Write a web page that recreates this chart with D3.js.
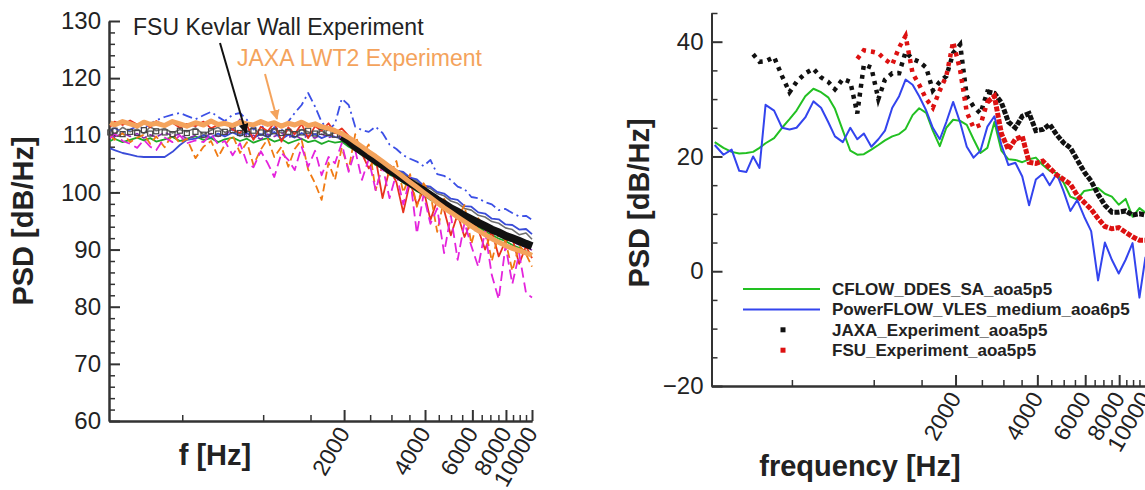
<!DOCTYPE html>
<html lang="en">
<head>
<meta charset="utf-8">
<title>PSD comparison</title>
<style>
body { margin: 0; background: #fff; }
svg text { font-family: "Liberation Sans", Arial, Helvetica, sans-serif; fill: #222; }
.axis path, .axis line { stroke: #333; stroke-width: 2; }
.axis.minor line { stroke-width: 1.5; }
.axis text { font-size: 24px; fill: #222; }
.axis.xmajor text { font-size: 23px; }
.axis-title { font-size: 29px; font-weight: 700; }
.legend text { font-size: 17px; font-weight: 700; }
.note { font-size: 23px; }
</style>
</head>
<body>
<svg id="chart" width="1145" height="490"></svg>
<script src="https://d3js.org/d3.v7.min.js"></script>
<script>
// ---------- tick labels ----------
var xMajorTicks = [2000, 4000, 6000, 8000, 10000];
var xMinorTicks = [500, 1000, 1500, 2500, 3000, 3500, 4500, 5000, 5500, 6500, 7000, 7500, 8500, 9000, 9500];
var leftYTicks = [60, 70, 80, 90, 100, 110, 120, 130];
var rightYTicks = [-20, 0, 20, 40];

// ---------- left panel (all spectra) ----------
var freqLeft = [270, 280, 300, 320, 340, 360, 380, 400, 430, 460, 490, 520, 560, 600, 640, 680, 720, 770, 820, 870,
  920, 980, 1040, 1100, 1170, 1240, 1310, 1390, 1470, 1560, 1650, 1750, 1850, 1960, 2080, 2200, 2330, 2470, 2620, 2780,
  2950, 3130, 3320, 3520, 3730, 3950, 4190, 4440, 4710, 4990, 5290, 5610, 5950, 6310, 6690, 7090, 7520, 7970, 8450, 8960,
  9500, 10000];

var grayL = [111.0, 110.2, 111.4, 110.6, 111.1, 110.3, 111.5, 110.8, 111.2, 110.4, 111.0, 110.6, 111.3, 110.1, 110.9, 111.4, 110.5, 111.0, 110.2, 110.8,
  111.3, 110.0, 110.7, 111.1, 110.4, 110.9, 110.3, 111.0, 110.6, 110.2, 110.8, 110.0, 110.5, 109.9, 109.6, 108.4, 107.9, 106.8, 106.3, 105.2,
  104.8, 103.9, 103.4, 102.5, 102.0, 101.1, 100.7, 99.8, 99.4, 98.5, 98.1, 97.2, 96.9, 96.0, 95.7, 94.9, 94.6, 93.8, 93.5, 92.6,
  92.9, 91.8];
var greenL = [109.0, 109.4, 108.8, 109.2, 109.6, 109.1, 109.5, 108.9, 109.3, 109.7, 109.0, 109.4, 109.8, 109.2, 109.5, 108.8, 109.3, 109.6, 109.0, 109.4,
  108.7, 109.2, 109.5, 108.9, 109.3, 108.6, 109.0, 109.4, 108.8, 109.1, 108.5, 109.0, 108.7, 108.9, 108.0, 107.4, 106.5, 105.9, 104.8, 104.2,
  103.1, 102.6, 101.7, 101.0, 100.2, 99.6, 98.7, 98.1, 97.3, 96.7, 95.8, 95.3, 94.5, 94.0, 93.1, 92.6, 91.9, 91.5, 90.8, 90.3,
  89.7, 89.2];
var purpleL = [110.2, 109.6, 110.4, 109.8, 110.3, 109.5, 110.1, 109.7, 110.5, 109.9, 110.2, 109.4, 110.0, 109.6, 110.3, 109.8, 110.1, 111.0, 112.8, 109.7,
  110.0, 109.3, 110.2, 109.8, 110.4, 109.6, 110.1, 109.3, 110.0, 109.5, 110.2, 109.6, 109.9, 109.7, 108.8, 107.6, 106.9, 106.1, 105.4, 104.3,
  103.8, 102.9, 102.1, 101.4, 100.6, 99.9, 99.2, 98.4, 97.7, 97.0, 96.2, 95.6, 95.0, 94.3, 93.7, 93.0, 92.5, 91.9, 91.4, 90.8,
  90.4, 89.9];
var blueSolidL = [107.7, 107.4, 106.9, 106.6, 106.3, 106.2, 106.2, 106.2, 106.2, 107.1, 108.3, 109.2, 109.4, 110.0, 109.6, 110.3, 109.8, 110.5, 109.9, 110.4,
  109.5, 110.2, 109.7, 110.6, 109.3, 110.1, 109.6, 110.4, 109.8, 110.2, 109.5, 110.0, 109.7, 109.4, 108.6, 107.8, 107.4, 106.5, 106.0, 105.1,
  104.7, 103.8, 103.6, 102.6, 102.3, 101.2, 101.0, 100.1, 99.8, 98.9, 98.7, 97.6, 97.5, 96.5, 96.3, 95.4, 95.3, 94.4, 94.3, 93.5,
  93.6, 92.7];
var blueDashL = [110.8, 111.3, 110.5, 111.0, 111.6, 111.2, 112.0, 112.6, 113.2, 113.6, 113.9, 113.4, 112.8, 113.5, 114.1, 113.2, 112.5, 113.6, 113.9, 112.7,
  111.0, 112.2, 109.5, 111.4, 110.8, 112.4, 113.9, 115.3, 117.4, 115.0, 112.3, 111.0, 112.0, 116.4, 115.3, 111.5, 110.9, 110.6, 111.5, 110.4,
  108.4, 107.6, 106.5, 105.9, 105.4, 104.6, 105.7, 103.2, 102.9, 102.2, 101.0, 100.6, 99.2, 99.0, 98.3, 97.9, 96.9, 97.1, 96.4, 95.8,
  95.9, 95.2];
var redL = [111.5, 112.4, 111.8, 112.6, 111.9, 112.3, 111.4, 112.5, 111.7, 112.2, 111.3, 112.0, 111.6, 112.4, 111.2, 111.9, 112.3, 111.0, 110.4, 111.8,
  109.2, 111.5, 110.7, 112.2, 108.9, 111.4, 110.2, 112.0, 109.5, 111.6, 110.8, 112.1, 110.4, 111.2, 109.9, 107.5, 106.8, 104.2, 106.0, 99.0,
  104.1, 101.8, 96.5, 101.9, 97.8, 100.5, 95.2, 98.6, 96.9, 92.5, 96.2, 92.2, 95.0, 93.5, 90.0, 93.2, 88.8, 91.5, 92.0, 87.5,
  90.6, 88.5];
var orangeL = [110.0, 109.2, 110.4, 108.8, 109.6, 110.1, 108.5, 109.8, 107.9, 110.2, 108.6, 109.4, 106.0, 108.0, 109.0, 106.2, 108.3, 110.0, 106.9, 108.8,
  104.8, 107.5, 109.4, 106.2, 108.0, 104.5, 107.6, 109.2, 104.0, 101.6, 98.7, 105.2, 102.2, 107.8, 104.0, 110.2, 106.5, 108.4, 100.4, 104.9,
  102.8, 105.5, 100.0, 103.2, 97.5, 101.6, 99.8, 93.1, 98.9, 97.0, 95.4, 97.8, 91.0, 95.5, 93.8, 88.0, 92.9, 91.5, 86.3, 90.8,
  89.2, 87.0];
var magentaL = [109.5, 110.3, 109.0, 108.5, 107.8, 109.2, 108.0, 107.4, 109.6, 108.8, 110.0, 108.6, 109.1, 108.8, 110.2, 108.4, 109.0, 106.5, 108.6, 105.2,
  104.4, 107.2, 105.1, 102.7, 106.9, 105.7, 103.9, 108.0, 104.5, 107.3, 103.0, 106.2, 105.1, 108.6, 103.6, 107.4, 102.2, 105.8, 100.4, 104.6,
  99.0, 103.3, 97.9, 102.5, 92.8, 99.6, 94.5, 97.2, 89.4, 96.0, 88.2, 94.7, 90.6, 87.0, 93.2, 85.5, 81.3, 90.7, 84.0, 89.3,
  82.4, 81.6];
var fsuL = [110.5, 110.8, 110.2, 110.6, 110.4, 110.9, 110.3, 110.7, 110.5, 110.2, 110.8, 110.4, 110.6, 110.1, 110.7, 110.3, 110.6, 110.9, 110.4, 110.2,
  110.8, 110.5, 110.3, 110.7, 110.4, 110.6, 110.2, 110.5, 110.8, 110.3, 110.6, 110.4, 110.1, 109.8, 109.0, 108.0, 107.2, 106.4, 105.6, 104.8,
  103.9, 103.2, 102.4, 101.7, 101.0, 100.3, 99.5, 98.7, 98.0, 97.2, 96.6, 95.9, 95.3, 94.7, 94.1, 93.5, 93.0, 92.4, 92.0, 91.5,
  91.0, 90.6];
var jaxaL = [112.2, 111.8, 112.4, 112.0, 111.6, 112.3, 111.9, 112.1, 111.7, 112.4, 112.0, 111.6, 112.2, 111.8, 112.5, 111.9, 112.1, 111.7, 112.3, 112.0,
  111.8, 112.4, 111.9, 112.2, 111.6, 112.1, 111.8, 112.3, 111.7, 112.0, 111.5, 111.2, 110.8, 110.3, 109.6, 108.8, 108.0, 107.1, 106.3, 105.4,
  104.5, 103.6, 102.7, 101.8, 100.9, 100.0, 99.1, 98.2, 97.3, 96.5, 95.7, 94.9, 94.1, 93.3, 92.6, 91.9, 91.3, 90.7, 90.2, 89.8,
  89.4, 89.0];

// ---------- right panel ----------
var freqRight = [260, 280, 300, 320, 340, 360, 380, 400, 430, 460, 490, 520, 560, 600, 640, 680, 720, 770, 820, 870,
  920, 980, 1040, 1100, 1170, 1240, 1310, 1390, 1470, 1560, 1650, 1750, 1850, 1960, 2080, 2200, 2330, 2470, 2620, 2780,
  2950, 3130, 3320, 3520, 3730, 3950, 4190, 4440, 4710, 4990, 5290, 5610, 5950, 6310, 6690, 7090, 7520, 7970, 8450, 8960,
  9500, 10000];
var cflowR = [22.5, 21.5, 20.8, 20.5, 20.6, 20.8, 21.5, 22.3, 23.2, 25, 26.5, 28, 30.5, 31.8, 31.2, 30.3, 28.3, 24.5, 21, 20.3,
  20.4, 21.2, 22, 22.8, 23.5, 23.9, 24.8, 27.2, 28.4, 27.6, 24.5, 21.8, 25, 26.4, 26.2, 25.5, 23, 20.6, 21.5, 26,
  21, 19.5, 19.4, 19, 19.5, 19.8, 18.5, 17.5, 17.1, 15.5, 13, 12.5, 14, 14.2, 14.5, 13.5, 13, 11.6, 12.6, 9.5,
  11, 10.2];
var powerflowR = [22, 20.3, 21.2, 17.5, 17.3, 20, 18, 29, 28, 25, 24.7, 25, 26.8, 29.6, 28.5, 26, 23.5, 22.5, 25, 23,
  24, 21.7, 23, 24.5, 28.5, 30.5, 33.4, 32.5, 30.5, 28, 25, 23, 26, 29.5, 25.9, 21.7, 19.8, 21, 25.2, 27,
  22, 18.5, 18.9, 16.5, 11.5, 16, 17, 15, 17, 14, 10.5, 12.4, 9.5, 7, -1.6, 5, 2, -0.4, 2, 4.9,
  -4.6, 2.5];
var jaxaR = [null, null, null, null, null, 37.8, 36.5, 36.6, 37.3, 34, 31.2, 33, 34.5, 35.3, 33.8, 33, 31.7, 33.5, 33, 27.5,
  36, 35.5, 30, 33.4, 34.5, 34.5, 38.2, 37, 36.5, 35.5, 31.5, 33, 34, 38, 39.5, 30.5, 28.7, 27.5, 31.3, 31,
  29.4, 26, 25, 27, 27.5, 24.5, 24.7, 25.6, 23.8, 22.4, 21.5, 19.4, 17.3, 15.7, 13.4, 11.5, 10.3, 10.3, 10.5, 9.8,
  10, 9.8];
var fsuR = [null, null, null, null, null, null, null, null, null, null, null, null, null, null, null, null, null, null, null, 37,
  38.5, 38.3, 38, 36.9, 36, 39, 41, 34.5, 32.5, 30, 28.5, 31.5, 34, 40, 35, 27.7, 25, 25.5, 29.5, 30.5,
  24, 21.2, 23, 23.5, 19, 18.8, 19.2, 18, 16.8, 16, 15.2, 13.2, 12, 10.8, 9.2, 7.8, 7.4, 7.6, 6.8, 6,
  5.4, 5.4];

var legendNames = ["CFLOW_DDES_SA_aoa5p5", "PowerFLOW_VLES_medium_aoa6p5", "JAXA_Experiment_aoa5p5", "FSU_Experiment_aoa5p5"];

// ---------- setup ----------
var svg = d3.select("#chart");
svg.append("rect").attr("width", 1145).attr("height", 490).attr("fill", "#fff");

var xL = d3.scaleLog().domain([267, 10000]).range([109, 532]);
var yL = d3.scaleLinear().domain([60, 130]).range([421, 21]);
var xR = d3.scaleLog().domain([253, 10000]).range([711.5, 1145.5]);
var yR = d3.scaleLinear().domain([-20, 45]).range([386, 13]);

function drawAxes(x, y, yMajor, yMinor) {
  var y0 = y.range()[0], x0 = x.range()[0];
  svg.append("g").attr("class", "axis minor").attr("transform", "translate(0," + y0 + ")")
    .call(d3.axisBottom(x).tickValues(xMinorTicks).tickSize(-6).tickSizeOuter(0).tickFormat(""));
  var gx = svg.append("g").attr("class", "axis xmajor").attr("transform", "translate(0," + y0 + ")")
    .call(d3.axisBottom(x).tickValues(xMajorTicks).tickSize(-11).tickSizeOuter(0).tickFormat(d3.format("d")));
  gx.selectAll("text")
    .attr("x", 0).attr("y", 0).attr("dy", "0.35em")
    .attr("transform", "translate(-1,8) rotate(-60)")
    .style("text-anchor", "end");
  svg.append("g").attr("class", "axis minor").attr("transform", "translate(" + x0 + ",0)")
    .call(d3.axisLeft(y).tickValues(yMinor).tickSize(-6).tickSizeOuter(0).tickFormat(""));
  svg.append("g").attr("class", "axis").attr("transform", "translate(" + x0 + ",0)")
    .call(d3.axisLeft(y).tickValues(yMajor).tickSize(-11).tickSizeOuter(0).tickPadding(8));
}

drawAxes(xL, yL, leftYTicks, d3.range(62, 130, 2).filter(function(d) { return d % 10 !== 0; }));
drawAxes(xR, yR, rightYTicks, d3.range(-15, 46, 5).filter(function(d) { return d % 20 !== 0; }));

function seriesOf(freqs, vals) {
  return freqs.map(function(f, i) { return {f: f, v: vals[i]}; });
}

function drawLine(x, y, freqs, vals, color, width, dash) {
  var line = d3.line()
    .defined(function(d) { return d.v !== null; })
    .x(function(d) { return x(d.f); })
    .y(function(d) { return y(d.v); });
  svg.append("path")
    .datum(seriesOf(freqs, vals))
    .attr("fill", "none")
    .attr("stroke", color)
    .attr("stroke-width", width)
    .attr("stroke-dasharray", dash || null)
    .attr("stroke-linejoin", "round")
    .attr("d", line);
}

function drawSquares(x, y, data, color, size, hollow) {
  svg.append("g").selectAll("rect")
    .data(data.filter(function(d) { return d.v !== null; }))
    .enter().append("rect")
    .attr("x", function(d) { return x(d.f) - size / 2; })
    .attr("y", function(d) { return y(d.v) - size / 2; })
    .attr("width", size).attr("height", size)
    .attr("fill", hollow ? "none" : color)
    .attr("stroke", hollow ? color : "none")
    .attr("stroke-width", 1.2);
}

// experiments on the right: dotted trace at low frequency, dense band above ~2.8 kHz
function drawExperiment(data, color) {
  var pts = data.filter(function(d) { return d.v !== null; });
  var line = d3.line().x(function(d) { return xR(d.f); }).y(function(d) { return yR(d.v); });
  svg.append("path").datum(pts.filter(function(d) { return d.f <= 2780; }))
    .attr("fill", "none").attr("stroke", color).attr("stroke-width", 4.5)
    .attr("stroke-dasharray", "4,5").attr("d", line);
  svg.append("path").datum(pts.filter(function(d) { return d.f >= 2620; }))
    .attr("fill", "none").attr("stroke", color).attr("stroke-width", 5)
    .attr("stroke-dasharray", "5,1.5").attr("d", line);
}

// ---------- left panel marks ----------
drawLine(xL, yL, freqLeft, grayL, "#6e6e6e", 1.6);
drawLine(xL, yL, freqLeft, greenL, "#1eaa28", 1.8);
drawLine(xL, yL, freqLeft, purpleL, "#8c28b4", 1.6, "6,3");
drawLine(xL, yL, freqLeft, blueSolidL, "#3a4cd8", 1.8);
drawLine(xL, yL, freqLeft, blueDashL, "#3c50e6", 1.8, "10,4,2,4");
drawLine(xL, yL, freqLeft, redL, "#e8321e", 1.8);
drawLine(xL, yL, freqLeft, orangeL, "#f07a12", 1.8, "8,4");
drawLine(xL, yL, freqLeft, magentaL, "#e424dc", 1.8, "10,5");

var fsuLData = seriesOf(freqLeft, fsuL);
drawSquares(xL, yL, fsuLData.filter(function(d) { return d.f <= 1960; }), "#444", 5, true);
svg.append("path")
  .datum(fsuLData.filter(function(d) { return d.f >= 1960; }))
  .attr("fill", "none").attr("stroke", "#111").attr("stroke-width", 8)
  .attr("d", d3.line().x(function(d) { return xL(d.f); }).y(function(d) { return yL(d.v); }));
drawLine(xL, yL, freqLeft, jaxaL, "#f4a35c", 5);

// annotations
var defs = svg.append("defs");
[["arrBlack", "#111"], ["arrOrange", "#f4a35c"]].forEach(function(a) {
  defs.append("marker").attr("id", a[0]).attr("viewBox", "0 0 10 10")
    .attr("refX", 9).attr("refY", 5).attr("markerWidth", 5).attr("markerHeight", 5)
    .attr("orient", "auto")
    .append("path").attr("d", "M0,0L10,5L0,10z").attr("fill", a[1]);
});
svg.append("line").attr("x1", 220).attr("y1", 43).attr("x2", 246).attr("y2", 133)
  .attr("stroke", "#111").attr("stroke-width", 2).attr("marker-end", "url(#arrBlack)");
svg.append("line").attr("x1", 265).attr("y1", 74).attr("x2", 277).attr("y2", 119)
  .attr("stroke", "#f4a35c").attr("stroke-width", 2).attr("marker-end", "url(#arrOrange)");
svg.append("text").attr("class", "note").attr("x", 133).attr("y", 35).text("FSU Kevlar Wall Experiment");
svg.append("text").attr("class", "note").attr("x", 237).attr("y", 66)
  .style("fill", "#f4a35c").text("JAXA LWT2 Experiment");

// ---------- right panel marks ----------
drawLine(xR, yR, freqRight, cflowR, "#22c022", 2);
drawLine(xR, yR, freqRight, powerflowR, "#3344ee", 2);
drawExperiment(seriesOf(freqRight, jaxaR), "#111");
drawExperiment(seriesOf(freqRight, fsuR), "#dd1111");

// legend
var legend = svg.append("g").attr("class", "legend");
var legColors = ["#22c022", "#3344ee", "#111", "#dd1111"];
legendNames.forEach(function(name, i) {
  var ly = 289 + i * 20.4;
  if (i < 2) {
    legend.append("line").attr("x1", 743).attr("x2", 820).attr("y1", ly).attr("y2", ly)
      .attr("stroke", legColors[i]).attr("stroke-width", 2);
  } else {
    legend.append("rect").attr("x", 780.5).attr("y", ly - 2.5).attr("width", 5).attr("height", 5)
      .attr("fill", legColors[i]);
  }
  legend.append("text").attr("x", 832).attr("y", ly + 6).text(name);
});

// ---------- axis titles ----------
svg.append("text").attr("class", "axis-title").attr("text-anchor", "middle")
  .attr("transform", "translate(33,221) rotate(-90)").text("PSD [dB/Hz]");
svg.append("text").attr("class", "axis-title").attr("text-anchor", "middle")
  .attr("x", 215).attr("y", 465).text("f [Hz]");
svg.append("text").attr("class", "axis-title").attr("text-anchor", "middle")
  .attr("transform", "translate(649,203) rotate(-90)").text("PSD [dB/Hz]");
svg.append("text").attr("class", "axis-title").attr("text-anchor", "middle")
  .attr("x", 860).attr("y", 476).text("frequency [Hz]");
</script>
</body>
</html>
